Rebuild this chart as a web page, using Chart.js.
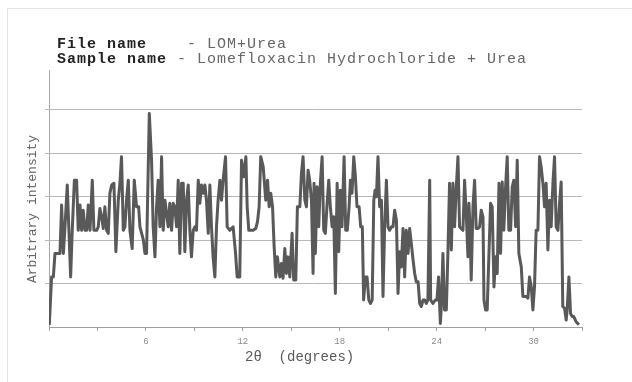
<!DOCTYPE html>
<html>
<head>
<meta charset="utf-8">
<script src="https://cdn.jsdelivr.net/npm/chart.js@4"></script>
<style>
    html, body { margin: 0; padding: 0; background: #fff; }
    #wrap { position: relative; width: 632px; height: 382px; overflow: hidden; }
    #frame { position: absolute; left: 7px; top: 8px; right: -2px; bottom: -2px;
             border-left: 1px solid #e4e4e4; border-top: 1px solid #e4e4e4; }
    #xrdChart { position: absolute; left: 0; top: 0; }
    .header { position: absolute; left: 57px; top: 37px; font-family: "Liberation Mono", monospace;
              font-size: 15px; line-height: 15px; letter-spacing: 1px; white-space: pre; color: #666; }
    .header b { color: #222; }
    .xtitle { position: absolute; left: 245px; top: 350px; font-family: "Liberation Mono", monospace;
              font-size: 14px; line-height: 14px; white-space: pre; color: #5a5a5a; }
    .ytitle { position: absolute; left: -67px; top: 202px; width: 200px; text-align: center;
              font-family: "Liberation Mono", monospace; font-size: 13px; line-height: 14px;
              color: #666; transform: rotate(-90deg); }
</style>
</head>
<body>
<div id="wrap">
    <div id="frame"></div>
    <canvas id="xrdChart" width="632" height="382"></canvas>
    <div class="header"><b>File name</b>    - LOM+Urea
<b>Sample name</b> - Lomefloxacin Hydrochloride + Urea</div>
    <div class="xtitle">2θ  (degrees)</div>
    <div class="ytitle">Arbitrary intensity</div>
</div>
<script>
// 2-theta positions (degrees)
const twoTheta = [
    0.02, 0.16, 0.27, 0.37, 0.47, 0.58, 0.68, 0.78, 0.89, 0.99, 1.13, 1.24, 1.34, 1.44, 1.57, 1.71,
    1.81, 1.92, 2.02, 2.12, 2.23, 2.33, 2.43, 2.54, 2.68, 2.78, 2.95, 3.05, 3.15, 3.26, 3.36, 3.46,
    3.57, 3.67, 3.77, 3.88, 4.02, 4.14, 4.29, 4.39, 4.49, 4.60, 4.70, 4.80, 4.91, 5.01, 5.15, 5.28,
    5.42, 5.55, 5.63, 5.84, 5.94, 6.04, 6.21, 6.35, 6.45, 6.56, 6.66, 6.76, 6.87, 6.97, 7.07, 7.18,
    7.38, 7.48, 7.59, 7.69, 7.79, 7.90, 8.00,
    8.10, 8.21, 8.31, 8.41, 8.52, 8.62, 8.72, 8.82, 8.93, 9.03, 9.13, 9.24, 9.34, 9.44, 9.55, 9.65,
    9.75, 9.86, 9.96, 10.06, 10.16, 10.27, 10.37, 10.47, 10.58, 10.68, 10.78, 10.93, 11.03, 11.20,
    11.40, 11.55, 11.65, 11.81, 11.92, 12.06, 12.19, 12.27, 12.37, 12.49, 12.64, 12.80, 12.91, 13.01,
    13.11, 13.26, 13.42, 13.53, 13.63, 13.73, 13.84, 13.94, 14.04, 14.14, 14.29, 14.39, 14.49, 14.60,
    14.70, 14.80, 14.91, 15.05, 15.15, 15.28, 15.38, 15.53, 15.63, 15.73, 15.84, 15.94, 16.04, 16.14,
    16.25, 16.35, 16.41, 16.49, 16.60, 16.70, 16.80, 16.91, 17.01, 17.11, 17.22, 17.32, 17.42, 17.53,
    17.63, 17.73, 17.84, 17.94, 18.04, 18.14, 18.27, 18.37, 18.47, 18.58, 18.66, 18.76, 18.87, 18.97,
    19.07, 19.20, 19.30, 19.40, 19.48, 19.59, 19.69, 19.80, 19.90, 20.01, 20.11, 20.19, 20.27, 20.37,
    20.47, 20.58, 20.68, 20.78, 20.89, 20.99, 21.09, 21.20, 21.30, 21.40, 21.51, 21.61, 21.71, 21.81,
    21.92, 22.02, 22.12, 22.23, 22.33, 22.43, 22.54, 22.64, 22.74, 22.85, 22.95, 23.05, 23.16, 23.26,
    23.36, 23.46,
    23.57, 23.63, 23.77, 23.92, 24.02, 24.12, 24.23, 24.29, 24.39, 24.49, 24.60, 24.70, 24.80, 24.91,
    25.01, 25.11, 25.22, 25.32, 25.42, 25.52, 25.63, 25.73, 25.84, 25.94, 26.00, 26.08, 26.14, 26.25,
    26.35, 26.45, 26.56, 26.66, 26.76, 26.87, 26.93, 27.03, 27.13, 27.24, 27.34, 27.44, 27.55, 27.65,
    27.75, 27.86, 27.96, 28.06, 28.16, 28.27, 28.37, 28.47, 28.58, 28.68, 28.78, 28.89, 28.99, 29.09,
    29.24, 29.34, 29.44, 29.55, 29.65, 29.75, 29.86, 29.96, 30.06, 30.16, 30.27, 30.37, 30.47, 30.58,
    30.68, 30.78, 30.89, 30.99, 31.09, 31.20, 31.30, 31.40, 31.51, 31.61, 31.71, 31.81, 31.92, 32.02,
    32.08, 32.19, 32.29, 32.39, 32.49, 32.64, 32.81
];

// intensity (arbitrary units, gridlines every 100)
const intensity = [
    5, 115, 115, 169, 169, 169, 169, 280, 169, 230, 326, 215, 115, 222, 337, 337,
    222, 280, 222, 268, 222, 222, 280, 222, 337, 222, 222, 230, 272, 253, 226, 276,
    222, 215, 307, 326, 330, 173, 291, 330, 391, 222, 230, 291, 337, 222, 180, 337,
    276, 276, 230, 200, 169, 169, 490, 383, 230, 161, 276, 337, 230, 391, 222, 291,
    230, 284, 222, 284, 276, 230, 337,
    169, 330, 330, 173, 291, 326, 222, 161, 222, 230, 222, 337, 284, 326, 307, 326,
    291, 215, 326, 230, 161, 115, 230, 291, 337, 291, 337, 391, 230, 222,
    230, 169, 115, 115, 383, 345, 391, 276, 222, 222, 222, 226, 242, 276,
    391, 368, 291, 337, 276, 307, 276, 184, 115, 161, 115, 146, 112, 180,
    123, 161, 115, 215, 108, 108, 276, 276, 352, 391, 291, 276, 360, 337,
    291, 123, 330, 169, 322, 230, 330, 391, 222, 215, 284, 337, 276, 230,
    253, 77, 330, 173, 314, 230, 391, 222, 222, 276, 337, 307, 391, 345,
    276, 276, 230, 230, 62, 115, 115, 62, 54, 62, 291, 314, 299, 391,
    276, 291, 70, 230, 337, 230, 222, 230, 230, 268, 245, 77, 173, 138,
    226, 115, 222, 169, 226, 192, 154, 123, 104, 104, 54, 47, 62, 62,
    54, 62,
    337, 62, 54, 62, 62, 115, 8, 47, 169, 39, 39, 173, 330, 177,
    330, 230, 322, 391, 230, 226, 222, 337, 253, 161, 284, 215, 108, 276,
    337, 226, 226, 230, 268, 253, 62, 39, 39, 169, 284, 276, 92, 161,
    123, 330, 169, 333, 222, 322, 391, 222, 222, 322, 337, 230, 383, 169,
    138, 70, 70, 70, 66, 115, 92, 39, 92, 222, 222, 391, 368, 330,
    276, 330, 177, 291, 230, 330, 391, 230, 222, 284, 333, 47, 43, 16,
    39, 115, 31, 24, 24, 12, 5
];

// x tick step, and which ticks carry a label
const xTickStep = 3;
const xLabelled = [6, 12, 18, 24, 30];
// horizontal gridline values
const yGridValues = [100, 200, 300, 400, 500];

let xrdChart;

//////////////////////////////////////////////
// Horizontal gridlines (with short ticks left of the axis)
//////////////////////////////////////////////
const hGridPlugin = {
    id: 'hGrid',
    beforeDatasetsDraw(chart) {
        const { ctx, chartArea, scales } = chart;
        ctx.save();
        ctx.strokeStyle = '#b8b8b8';
        ctx.lineWidth = 1;
        yGridValues.forEach(v => {
            const y = Math.round(scales.y.getPixelForValue(v)) + 0.5;
            ctx.beginPath();
            ctx.moveTo(chartArea.left - 4, y);
            ctx.lineTo(chartArea.right, y);
            ctx.stroke();
        });
        ctx.restore();
    }
};

function initChart() {
    const ctx = document.getElementById('xrdChart').getContext('2d');
    const points = twoTheta.map((t, i) => ({ x: t, y: intensity[i] }));

    xrdChart = new Chart(ctx, {
        type: 'scatter',
        data: {
            datasets: [{
                data: points,
                showLine: true,
                borderColor: '#595959',
                borderWidth: 3,
                borderJoinStyle: 'round',
                pointRadius: 0,
                tension: 0
            }]
        },
        options: {
            responsive: false,
            animation: false,
            layout: { padding: { left: 45, right: 50, top: 70, bottom: 0 } },
            plugins: {
                legend: { display: false },
                tooltip: { enabled: false }
            },
            scales: {
                x: {
                    type: 'linear',
                    min: 0,
                    max: 33,
                    ticks: {
                        stepSize: xTickStep,
                        autoSkip: false,
                        maxRotation: 0,
                        padding: 5,
                        color: '#8a8a8a',
                        font: { family: 'Liberation Mono', size: 9 },
                        callback: v => xLabelled.includes(v) ? String(v) : ''
                    },
                    grid: { drawOnChartArea: false, drawTicks: true, tickLength: 4, color: '#a0a0a0' },
                    border: { color: '#a0a0a0' },
                    afterFit: s => { s.height = 55; }
                },
                y: {
                    type: 'linear',
                    min: 0,
                    max: 590,
                    ticks: { display: false },
                    grid: { display: false },
                    border: { display: true, color: '#a8a8a8' },
                    afterFit: s => { s.width = 4; }
                }
            }
        },
        plugins: [hGridPlugin]
    });
}

initChart();
</script>
</body>
</html>
